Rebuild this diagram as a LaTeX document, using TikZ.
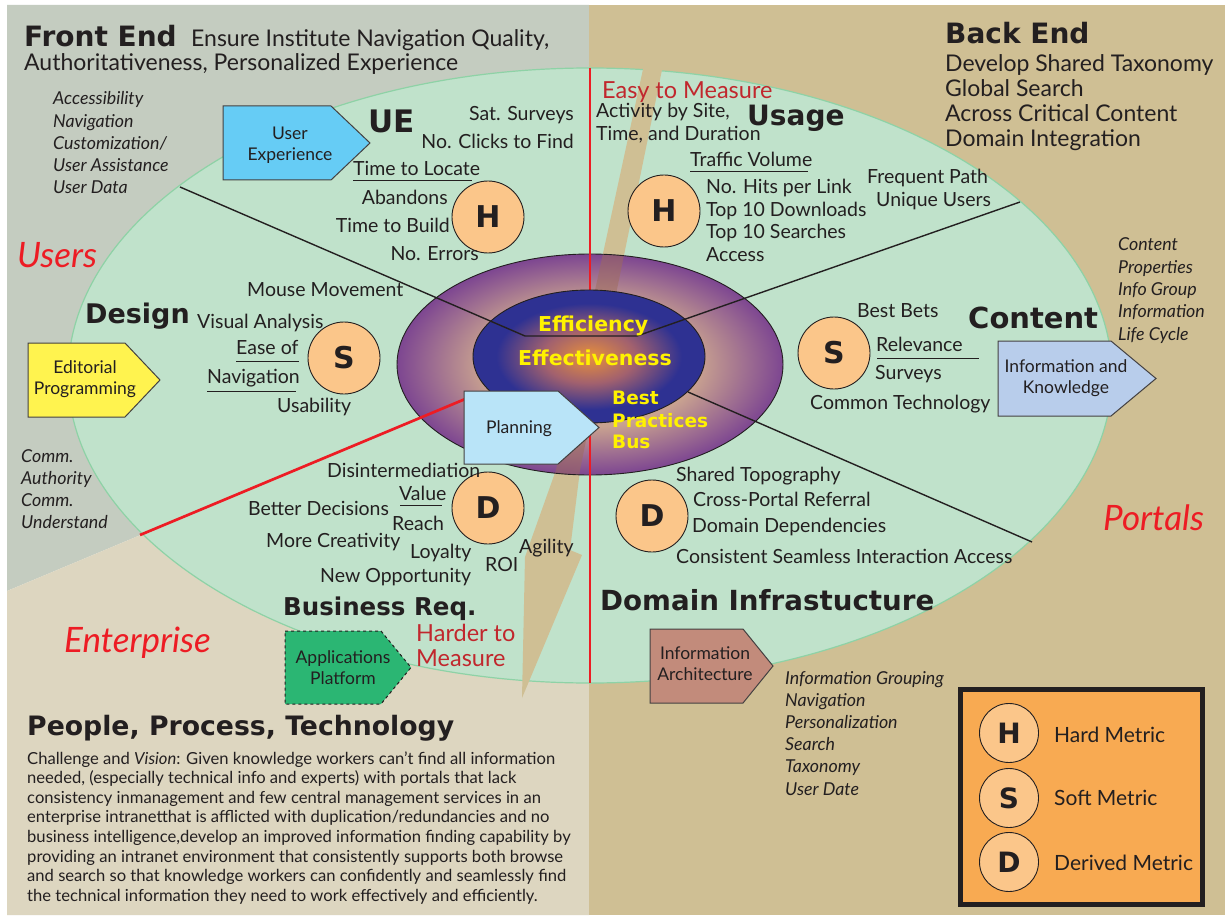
\documentclass[tikz,border=0pt]{standalone}
\usepackage{fontspec}
\setmainfont{Lato}
\newfontfamily\heavy{DejaVu Sans}
\usetikzlibrary{shapes.geometric}
\definecolor{greyzone}{HTML}{C4CCC0}
\definecolor{beigezone}{HTML}{DDD6C0}
\definecolor{tanzone}{HTML}{CFBF94}
\definecolor{ellgreen}{HTML}{C0E2CB}
\definecolor{elledge}{HTML}{8ED2A6}
\definecolor{redline}{HTML}{ED1C24}
\definecolor{redtext}{HTML}{ED1C24}
\definecolor{crimson}{HTML}{C1272D}
\definecolor{ringlight}{HTML}{C9A290}
\definecolor{ringdark}{HTML}{7D4691}
\definecolor{coreorange}{HTML}{E8903A}
\definecolor{coremid}{HTML}{A2616E}
\definecolor{coreblue}{HTML}{2E3192}
\definecolor{yellowtext}{HTML}{FFF200}
\definecolor{uebox}{HTML}{66CCF5}
\definecolor{planbox}{HTML}{B9E4F8}
\definecolor{edbox}{HTML}{FFF34F}
\definecolor{ikbox}{HTML}{B8CDEB}
\definecolor{appbox}{HTML}{2BB673}
\definecolor{iabox}{HTML}{C28B7B}
\definecolor{legendfill}{HTML}{F8AA52}
\definecolor{circfill}{HTML}{FBC68A}
\definecolor{ink}{HTML}{231F20}
\definecolor{stripeover}{HTML}{9E6B5A}
\pgfdeclareradialshading{ringshade}{\pgfpoint{0bp}{0bp}}{color(0bp)=(ringlight);color(14bp)=(ringlight);color(25bp)=(ringdark);color(50bp)=(ringdark)}
\pgfdeclareradialshading{coreshade}{\pgfpoint{0bp}{0bp}}{color(0bp)=(coreorange);color(10bp)=(coremid);color(20bp)=(coreblue);color(25bp)=(coreblue);color(50bp)=(coreblue)}
\newcommand\arrowbox[6]{\path[#6] (#1,#2) -- (#3,#2) -- (#5,{(#2+#4)/2}) -- (#3,#4) -- (#1,#4) -- cycle;}
\begin{document}
\begin{tikzpicture}[x=1pt,y=-1pt,
  lb/.style={anchor=base west, inner sep=0pt, text=ink, font=\fontsize{19.5}{23}\selectfont},
  lbr/.style={lb, anchor=base east},
  hdr/.style={anchor=base west, inner sep=0pt, text=ink, font=\fontsize{23}{27}\selectfont},
  itx/.style={anchor=base west, inner sep=0pt, text=ink, font=\fontsize{17.8}{21}\selectfont\itshape},
  hd/.style={anchor=base west, inner sep=0pt, text=ink, font=\heavy\bfseries\fontsize{#1}{#1}\selectfont},
  bigred/.style={anchor=base west, inner sep=0pt, text=redtext, font=\fontsize{35}{40}\selectfont\itshape},
  redmeas/.style={anchor=base west, inner sep=0pt, text=crimson, font=\fontsize{23.5}{27}\selectfont},
  ylwtxt/.style={anchor=base west, inner sep=0pt, text=yellowtext, font=\heavy\bfseries\fontsize{#1}{#1}\selectfont},
  metric/.style={circle, draw=ink, line width=0.9, fill=circfill, minimum size=72pt, inner sep=0pt, text=ink, font=\heavy\bfseries\fontsize{30}{30}\selectfont},
  legc/.style={metric, minimum size=59pt, font=\heavy\bfseries\fontsize{28}{28}\selectfont},
  boxtxt/.style={align=center, inner sep=0pt, text=ink, font=\fontsize{17.5}{21}\selectfont},
  boxline/.style={draw=ink!85, line width=1},
  para/.style={anchor=base west, inner sep=0pt, text=ink, font=\fontsize{16.6}{19}\selectfont},
  uline/.style={draw=ink, line width=1},
  leg/.style={lb, font=\fontsize{21}{25}\selectfont}
]
\useasboundingbox (0,0) rectangle (1225,917);
\fill[white] (0,0) rectangle (1225,917);
% background zones
\fill[greyzone] (7,5) -- (589,5) -- (589,347) -- (7,591) -- cycle;
\fill[beigezone] (7,591) -- (589,347) -- (589,915) -- (7,915) -- cycle;
\fill[tanzone] (589,5) rectangle (1225,915);
% big ellipse
\filldraw[fill=ellgreen, draw=elledge, line width=1.2] (590,375.5) ellipse [x radius=522, y radius=307.5];
% stripe
\fill[tanzone] (645,60) -- (556,470) -- (525,557) -- (522,698) -- (582,555) -- (570,550) -- (580,470) -- (664,60) -- cycle;
% ring
\shade[shading=ringshade] (590,364.5) ellipse [x radius=193, y radius=110.5];
\begin{scope}
\clip (590,364.5) ellipse [x radius=193, y radius=110.5];
\fill[stripeover, opacity=.5] (645,60) -- (556,470) -- (525,557) -- (522,698) -- (582,555) -- (570,550) -- (580,470) -- (664,60) -- cycle;
\end{scope}
\draw[ink, line width=0.9] (590,364.5) ellipse [x radius=193, y radius=110.5];
% red vertical
\coordinate (rtop) at (590,68);
\coordinate (rbot) at (590,683);
\draw[redline, line width=2.7] (rtop) -- (rbot);
% core
\shade[shading=coreshade] (589,356.5) ellipse [x radius=116, y radius=66.5];
\draw[ink, line width=0.9] (589,356.5) ellipse [x radius=116, y radius=66.5];
% dividers
\coordinate (l1a) at (180,187);
\coordinate (l1b) at (525,336);
\coordinate (l1c) at (637,336);
\coordinate (l1d) at (1020,202);
\coordinate (l2a) at (688,392);
\coordinate (l2b) at (1032,542);
\coordinate (r2a) at (470,397);
\coordinate (r2b) at (140,535);
\draw[ink, line width=1.4] (l1a) -- (l1b) -- (l1c) -- (l1d);
\draw[ink, line width=1.4] (l2a) -- (l2b);
\draw[redline, line width=2.7] (r2a) -- (r2b);
% center text
\node[ylwtxt=20.5] (eff1) at (538,331) {Efficiency};
\node[ylwtxt=20.5] (eff2) at (518,365) {Effectiveness};
\node[ylwtxt=18.5] (bp1) at (612,404) {Best};
\node[ylwtxt=18.5] (bp2) at (612,427) {Practices};
\node[ylwtxt=18.5] (bp3) at (612,448) {Bus};
% arrow boxes
\arrowbox{223}{106}{331}{180}{370}{boxline, fill=uebox}
\node[boxtxt] (uebx) at (290,145) {User\\Experience};
\arrowbox{28}{343}{125}{417}{160}{boxline, fill=edbox}
\node[boxtxt] (edbx) at (85,379) {Editorial\\Programming};
\arrowbox{464}{391}{558}{464}{599}{boxline, fill=planbox}
\node[boxtxt] (plbx) at (519,429) {Planning};
\arrowbox{998}{341}{1111}{416}{1156}{boxline, fill=ikbox}
\node[boxtxt] (ikbx) at (1066,378) {Information and\\Knowledge};
\arrowbox{285}{631}{381}{704}{411}{draw=ink, line width=1, dashed, fill=appbox}
\node[boxtxt] (apbx) at (343,668) {Applications\\Platform};
\arrowbox{650}{629}{743}{703}{773}{boxline, fill=iabox}
\node[boxtxt] (iabx) at (705,664) {Information\\Architecture};
% metric circles
\node[metric] (h1) at (488,217) {H};
\node[metric] (h2) at (664,211) {H};
\node[metric] (s1) at (344,358) {S};
\node[metric] (s2) at (834,353) {S};
\node[metric] (d1) at (488,508) {D};
\node[metric] (d2) at (652,516) {D};
% header
\node[hd=28] (fe) at (24,47) {Front End};
\node[hdr] (fe1) at (191,47) {Ensure Institute Navigation Quality,};
\node[hdr] (fe2) at (24,71) {Authoritativeness, Personalized Experience};
\foreach \t [count=\i] in {Accessibility, Navigation, Customization/, User Assistance, User Data}
  \node[itx] (ua\i) at (53,{105+22.2*(\i-1)}) {\t};
\node[bigred] (users) at (17,267) {Users};
% UE quadrant
\node[hd=31] (ue) at (368,133) {UE};
\node[lbr] (ue1) at (574,121) {Sat. Surveys};
\node[lbr] (ue2) at (574,149) {No. Clicks to Find};
\node[lb] (ue3) at (353,176) {Time to Locate};
\draw[uline] (353,181) -- (472,181);
\node[lbr] (ue4) at (448,205) {Abandons};
\node[lbr] (ue5) at (450,233) {Time to Build};
\node[lbr] (ue6) at (479,261) {No. Errors};
% usage
\node[redmeas] (easy) at (602,99) {Easy to Measure};
\node[lb] (us1) at (596,118) {Activity by Site,};
\node[lb] (us2) at (596,141) {Time, and Duration};
\node[hd=28] (usage) at (747,126) {Usage};
\node[lb] (us3) at (690,167) {Traffic Volume};
\draw[uline] (690,172) -- (808,172);
\foreach \t [count=\i] in {No. Hits per Link, Top 10 Downloads, Top 10 Searches, Access}
  \node[lb] (uv\i) at (706,{194+22.4*(\i-1)}) {\t};
\node[lb] (fp1) at (867,184) {Frequent Path};
\node[lb] (fp2) at (876,207) {Unique Users};
% back end
\node[hd=28] (be) at (945,44) {Back End};
\foreach \t [count=\i] in {Develop Shared Taxonomy, Global Search, Across Critical Content, Domain Integration}
  \node[hdr] (be\i) at (945,{72+25*(\i-1)}) {\t};
\foreach \t [count=\i] in {Content, Properties, Info Group, Information, Life Cycle}
  \node[itx] (cp\i) at (1118,{251+22.3*(\i-1)}) {\t};
% design
\node[lb] (mm) at (247,296) {Mouse Movement};
\node[hd=27] (design) at (85,323) {Design};
\node[lb] (ds1) at (197,328) {Visual Analysis};
\node[lb] (ds2) at (236,354) {Ease of};
\draw[uline] (236,361) -- (299,361);
\node[lb] (ds3) at (207,383) {Navigation};
\draw[uline] (207,391) -- (296,391);
\node[lb] (ds4) at (277,412) {Usability};
\foreach \t [count=\i] in {Comm., Authority, Comm., Understand}
  \node[itx] (cm\i) at (21,{462+22.3*(\i-1)}) {\t};
% content
\node[lb] (ct1) at (857,317) {Best Bets};
\node[hd=29] (content) at (968,328) {Content};
\node[lb] (ct2) at (876,351) {Relevance};
\draw[uline] (877,358) -- (979,358);
\node[lb] (ct3) at (875,379) {Surveys};
\node[lb] (ct4) at (810,409) {Common Technology};
% business
\node[lb] (bz1) at (327,477) {Disintermediation};
\node[lb] (bz2) at (399,500) {Value};
\draw[uline] (400,505) -- (442,505);
\node[lb] (bz3) at (248,515) {Better Decisions};
\node[lb] (bz4) at (392,530) {Reach};
\node[lb] (bz5) at (266,547) {More Creativity};
\node[lb] (bz6) at (410,558) {Loyalty};
\node[lb] (bz7) at (485,571) {ROI};
\node[lb] (bz8) at (519,553) {Agility};
\node[lb] (bz9) at (320,582) {New Opportunity};
\node[hd=24.5] (breq) at (283,615) {Business Req.};
\node[bigred] (ent) at (64,652) {Enterprise};
\node[redmeas] (hm1) at (416,641) {Harder to};
\node[redmeas] (hm2) at (416,666) {Measure};
% domain
\node[hd=27.7] (dom) at (600,610) {Domain Infrastucture};
\node[lb] (dm1) at (676,481) {Shared Topography};
\node[lb] (dm2) at (693,506) {Cross-Portal Referral};
\node[lb] (dm3) at (692,532) {Domain Dependencies};
\node[lb] (dm4) at (676,563) {Consistent Seamless Interaction Access};
\node[bigred] (portals) at (1103,530) {Portals};
\foreach \t [count=\i] in {Information Grouping, Navigation, Personalization, Search, Taxonomy, User Date}
  \node[itx] (ia\i) at (785,{684+22.2*(\i-1)}) {\t};
% legend
\draw[ink, line width=5, fill=legendfill] (960.5,689.5) rectangle (1202.5,904.5);
\node[legc] (lh) at (1009,733) {H};
\node[legc] (ls) at (1009,798) {S};
\node[legc] (ld) at (1009,862) {D};
\node[leg] (lht) at (1054,742) {Hard Metric};
\node[leg] (lst) at (1054,805) {Soft Metric};
\node[leg] (ldt) at (1054,870) {Derived Metric};
% people process technology
\node[hd=26.7] (ppt) at (27,735) {People, Process, Technology};
\foreach \t [count=\i] in {{Challenge and \textit{Vision}: Given knowledge workers can’t find all information},
  {needed, (especially technical info and experts) with portals that lack},
  {consistency inmanagement and few central management services in an},
  {enterprise intranetthat is afflicted with duplication/redundancies and no},
  {business intelligence,develop an improved information finding capability by},
  {providing an intranet environment that consistently supports both browse},
  {and search so that knowledge workers can confidently and seamlessly find},
  {the technical information they need to work effectively and efficiently.}}
  \node[para] (pp\i) at (27,{764+19.6*(\i-1)}) {\t};
\end{tikzpicture}
\end{document}
